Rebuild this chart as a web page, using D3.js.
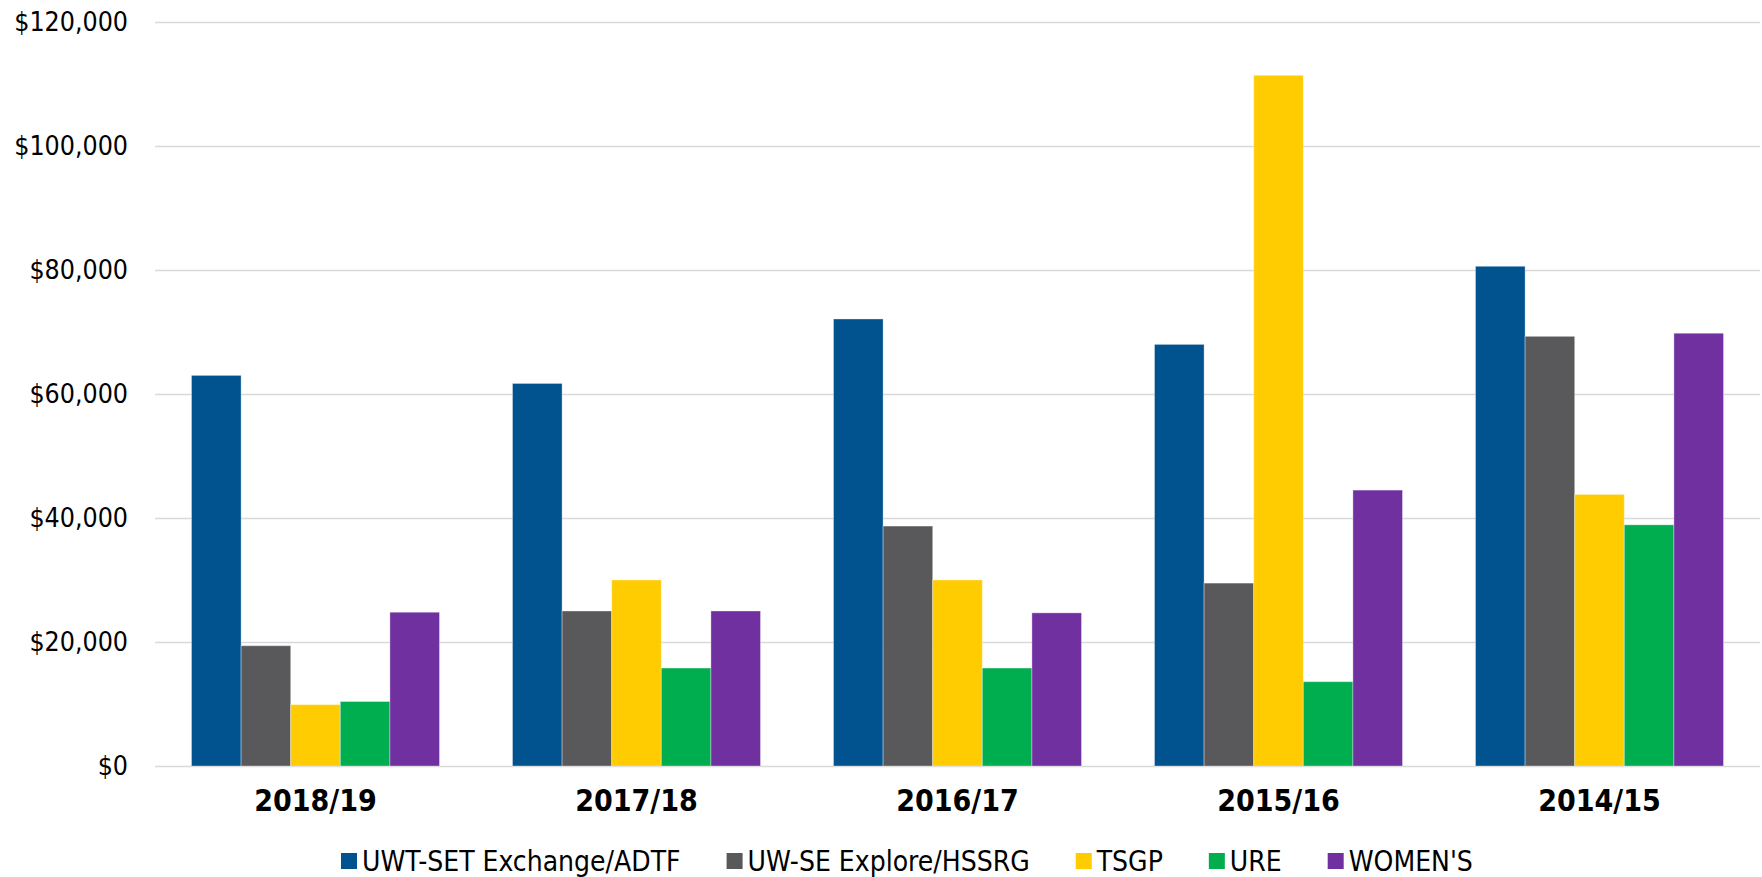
<!DOCTYPE html>
<html>
<head>
<meta charset="utf-8">
<script src="https://cdn.jsdelivr.net/npm/d3@7"></script>
<style>
  html, body { margin: 0; padding: 0; background: #fff; }
  svg { display: block; }
  text { font-family: "DejaVu Sans Condensed", "DejaVu Sans", sans-serif; font-stretch: condensed; }
</style>
</head>
<body>
<svg id="chart" width="1762" height="877"></svg>
<script>
const categories = ["2018/19", "2017/18", "2016/17", "2015/16", "2014/15"];
const seriesNames = ["UWT-SET Exchange/ADTF", "UW-SE Explore/HSSRG", "TSGP", "URE", "WOMEN'S"];
const seriesColors = ["#00538F", "#59595B", "#FECC00", "#00AD4F", "#7030A0"];
const uwtSetValues = [63000, 61700, 72100, 68000, 80600];
const uwSeValues = [19400, 25000, 38700, 29500, 69300];
const tsgpValues = [9900, 30000, 30000, 111400, 43800];
const ureValues = [10400, 15800, 15800, 13600, 38900];
const womensValues = [24800, 25000, 24700, 44500, 69800];
const yTicks = [0, 20000, 40000, 60000, 80000, 100000, 120000];

const seriesValues = [uwtSetValues, uwSeValues, tsgpValues, ureValues, womensValues];

const svg = d3.select("#chart");
const margin = { left: 155, right: 2, top: 22, bottom: 111 };
const W = 1762, H = 877;

const x0 = d3.scaleBand().domain(categories)
  .range([margin.left, W - margin.right])
  .paddingInner(0.2274).paddingOuter(0.1137);
const x1 = d3.scaleBand().domain(d3.range(seriesNames.length))
  .range([0, x0.bandwidth()]).padding(0);
const y = d3.scaleLinear().domain([0, 120000]).range([H - margin.bottom, margin.top]);

// gridlines
const yAxis = d3.axisLeft(y).tickValues(yTicks)
  .tickSize(-(W - margin.right - margin.left))
  .tickPadding(27)
  .tickFormat(d => "$" + d3.format(",")(d));
const gy = svg.append("g").attr("transform", `translate(${margin.left},0)`).call(yAxis);
gy.select(".domain").remove();
gy.selectAll(".tick line").attr("stroke", "#d9d9d9").attr("stroke-width", 1.5);
gy.selectAll(".tick text").attr("font-size", 26.5).attr("fill", "#000");

// bars
const groups = svg.append("g").selectAll("g").data(categories).join("g")
  .attr("transform", d => `translate(${x0(d)},0)`);
groups.selectAll("rect")
  .data((c, ci) => seriesValues.map((vals, si) => ({ si, v: vals[ci] })))
  .join("rect")
  .attr("x", d => x1(d.si))
  .attr("width", x1.bandwidth())
  .attr("y", d => y(d.v))
  .attr("height", d => y(0) - y(d.v))
  .attr("fill", d => seriesColors[d.si])
  .attr("stroke", "rgba(255,255,255,0.35)")
  .attr("stroke-width", 1);

// x axis labels
const xAxis = d3.axisBottom(x0).tickSize(0).tickPadding(24);
const gx = svg.append("g").attr("transform", `translate(0,${y(0)})`).call(xAxis);
gx.select(".domain").remove();
gx.selectAll(".tick text").attr("font-size", 30).attr("font-weight", "bold").attr("fill", "#000");

// legend
const legend = svg.append("g");
const items = legend.selectAll("g").data(seriesNames).join("g");
items.append("rect").attr("width", 16).attr("height", 16).attr("y", -8)
  .attr("fill", (d, i) => seriesColors[i]);
items.append("text").attr("x", 21).attr("dy", "0.35em").attr("font-size", 28)
  .attr("fill", "#000").text(d => d);
let xpos = 0;
const gap = 46;
items.each(function () {
  const g = d3.select(this);
  g.attr("transform", `translate(${xpos},0)`);
  const tl = g.select("text").node().getComputedTextLength();
  xpos += 21 + tl + gap;
});
legend.attr("transform", `translate(341,861)`);
</script>
</body>
</html>
